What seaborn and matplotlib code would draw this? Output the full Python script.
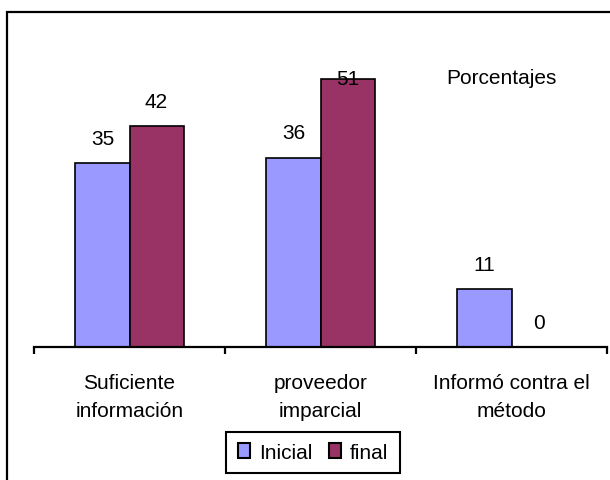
import matplotlib
matplotlib.use("Agg")
import matplotlib.pyplot as plt
from matplotlib.patches import Rectangle
import pandas as pd
import seaborn as sns

# Data
categorias = ["Suficiente\ninformación", "proveedor\nimparcial", "Informó contra el\nmétodo"]
series = ["Inicial", "final"]
valores_inicial = [35, 36, 11]
valores_final = [42, 51, 0]
colores = ["#9999FF", "#993366"]

df = pd.DataFrame({
    "categoria": categorias * 2,
    "serie": [series[0]] * 3 + [series[1]] * 3,
    "valor": valores_inicial + valores_final,
})

sns.set_theme(style="white")
plt.rcParams["font.family"] = ["Liberation Sans", "DejaVu Sans"]
plt.rcParams["text.color"] = "black"
plt.rcParams["xtick.color"] = "black"

fig = plt.figure(figsize=(6.10, 4.81), dpi=100)
ax = fig.add_axes([34 / 610, 133 / 481, (607 - 34) / 610, 315.6 / 481])

sns.barplot(data=df, x="categoria", y="valor", hue="serie", palette=colores,
            width=0.566, edgecolor="black", linewidth=1.2, saturation=1,
            ax=ax, legend=True)

ax.set_xlim(-0.5, 2.5)
ax.set_ylim(0, 60)
ax.set_xlabel("")
ax.set_ylabel("")
ax.set_yticks([])

for s in ["top", "right", "left"]:
    ax.spines[s].set_visible(False)
ax.spines["bottom"].set_linewidth(1.6)
ax.spines["bottom"].set_color("black")

# category labels between the separator ticks
ax.tick_params(axis="x", which="major", bottom=True, length=0, pad=19, labelsize=15)
for lbl in ax.get_xticklabels():
    lbl.set_linespacing(1.55)
    lbl.set_ha("center")
ax.set_xticks([-0.5, 0.5, 1.5, 2.5], minor=True)
ax.tick_params(axis="x", which="minor", bottom=True, length=5, width=1.6,
               direction="out", color="black")

# value labels above each bar (kept inside the plot area)
for cont, vals in zip(ax.containers, [valores_inicial, valores_final]):
    for bar, v in zip(cont, vals):
        cx = bar.get_x() + bar.get_width() / 2
        ax.text(cx, min(v + 4.7, 51.0), f"{v}", ha="center", va="center", fontsize=15)

fig.text(501 / 610, 1 - 78 / 481, "Porcentajes", ha="center", va="center", fontsize=15)

# legend under the chart
handles, labels = ax.get_legend_handles_labels()
ax.get_legend().remove()
leg = fig.legend(handles, labels, loc="center", bbox_to_anchor=(313 / 610, 1 - 453.5 / 481),
                 ncol=2, fontsize=15, frameon=True, fancybox=False, framealpha=1,
                 edgecolor="black", handlelength=0.6, handleheight=0.7, handletextpad=0.4,
                 columnspacing=0.8, borderpad=0.55, borderaxespad=0)
leg.get_frame().set_linewidth(1.5)
for h in leg.legend_handles:
    h.set_edgecolor("black")
    h.set_linewidth(1.5)

# outer chart frame
fig.add_artist(Rectangle((7 / 610, -0.2), 1.5, 0.2 + (481 - 13) / 481,
                         transform=fig.transFigure, fill=False, edgecolor="black",
                         linewidth=1.6))

fig.savefig("out.png", dpi=100)
